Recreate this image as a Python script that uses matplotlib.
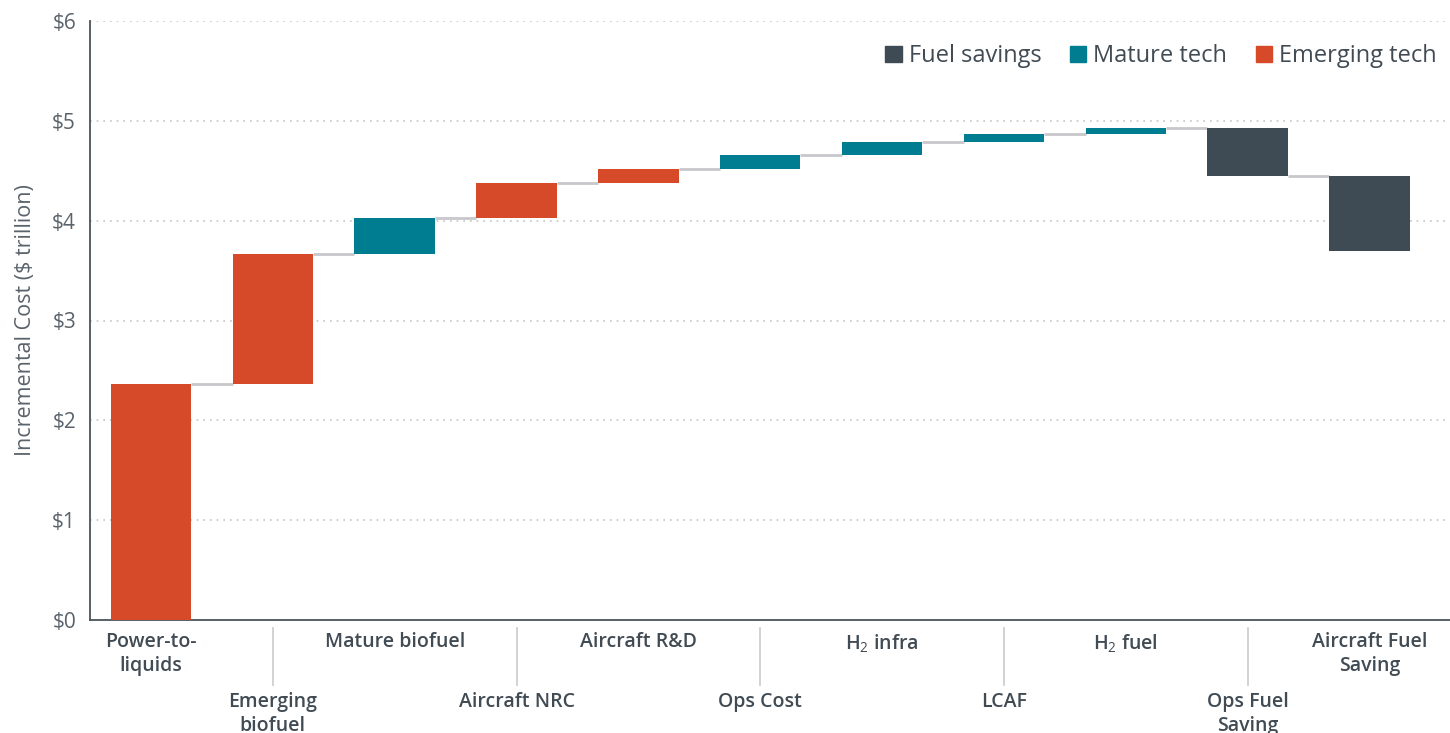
import matplotlib
matplotlib.use('Agg')
import matplotlib.pyplot as plt
from matplotlib.patches import Patch
import matplotlib.transforms as mtransforms
import numpy as np

plt.rcParams['font.family'] = ['Open Sans', 'DejaVu Sans']
plt.rcParams['mathtext.fontset'] = 'custom'
plt.rcParams['mathtext.rm'] = 'Open Sans'
plt.rcParams['mathtext.it'] = 'Open Sans'

categories = ['Power-to-\nliquids', 'Emerging\nbiofuel', 'Mature biofuel', 'Aircraft NRC',
              'Aircraft R&D', 'Ops Cost', 'H$_2$ infra', 'LCAF', 'H$_2$ fuel',
              'Ops Fuel\nSaving', 'Aircraft Fuel\nSaving']
deltas = [2.36, 1.31, 0.36, 0.35, 0.14, 0.14, 0.13, 0.08, 0.06, -0.48, -0.75]
groups = ['Emerging tech', 'Emerging tech', 'Mature tech', 'Emerging tech', 'Emerging tech',
          'Mature tech', 'Mature tech', 'Mature tech', 'Mature tech',
          'Fuel savings', 'Fuel savings']
yticks = [0, 1, 2, 3, 4, 5, 6]
ytick_labels = ['\\$0', '\\$1', '\\$2', '\\$3', '\\$4', '\\$5', '\\$6']

colors = {'Fuel savings': '#3e4a54', 'Mature tech': '#007d91', 'Emerging tech': '#d64a29'}
text_col = '#414b54'

fig = plt.figure(figsize=(14.5, 7.33), dpi=100)
ax = fig.add_axes([90 / 1450, 113 / 733, 1360 / 1450, 599 / 733])

x = np.arange(len(deltas))
ends = np.cumsum(deltas)
starts = ends - np.array(deltas)
width = 0.66

ax.bar(x, deltas, bottom=starts, width=width,
       color=[colors[g] for g in groups], zorder=3)

# connectors
for i in range(len(x) - 1):
    ax.plot([x[i] + width / 2, x[i + 1] - width / 2], [ends[i], ends[i]],
            color='#c8c8cc', lw=2, zorder=2, solid_capstyle='butt')

ax.set_xlim(-0.5, 10.66)
ax.set_ylim(0, 6)
ax.set_yticks(yticks)
ax.set_yticklabels(ytick_labels, fontsize=15, color='#5a636b')
ax.tick_params(axis='y', length=0, pad=10)
ax.set_xticks([])
ax.grid(axis='y', linestyle=(0, (1, 3)), color='#c4c4c4', lw=1.2, zorder=0)
for s in ['top', 'right']:
    ax.spines[s].set_visible(False)
for s in ['left', 'bottom']:
    ax.spines[s].set_color('#4a545c')
    ax.spines[s].set_linewidth(1.3)

ax.set_ylabel('Incremental Cost ($ trillion)', fontsize=15.5, color='#5a636b',
              fontweight='medium', labelpad=12)

trans = mtransforms.blended_transform_factory(ax.transData, ax.transAxes)
for i, lab in enumerate(categories):
    if i % 2 == 0:
        ax.text(x[i], -0.02, lab, transform=trans, ha='center', va='top',
                fontsize=14, fontweight='semibold', color=text_col, linespacing=1.3)
    else:
        ax.plot([x[i], x[i]], [-0.0134, -0.1085], transform=trans, color='#cfcfcf',
                lw=1.3, clip_on=False)
        ax.text(x[i], -0.12, lab, transform=trans, ha='center', va='top',
                fontsize=14, fontweight='semibold', color=text_col, linespacing=1.3)

handles = [Patch(color=colors[k]) for k in ['Fuel savings', 'Mature tech', 'Emerging tech']]
leg = ax.legend(handles, ['Fuel savings', 'Mature tech', 'Emerging tech'], ncol=3,
                loc='upper right', bbox_to_anchor=(1.006, 0.997), frameon=False,
                fontsize=17, handlelength=0.7, handleheight=0.7, handletextpad=0.3,
                columnspacing=1.2)
for t in leg.get_texts():
    t.set_color(text_col)

fig.savefig('out.png', dpi=100)
